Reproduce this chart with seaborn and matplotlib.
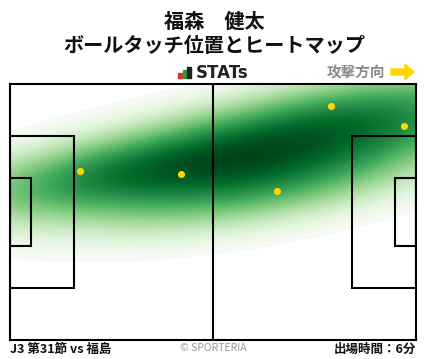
import matplotlib
matplotlib.use("Agg")
import matplotlib.pyplot as plt
import seaborn as sns
import numpy as np
import pandas as pd
from matplotlib.patches import Rectangle, FancyArrow

sns.set_style("white")
plt.rcParams['font.family'] = ['Noto Sans CJK JP', 'DejaVu Sans']

# Data (pitch coords: x 0-105 toward attack, y 0-68 from top)
touch_x = [18.2, 44.3, 83.1, 102.0, 69.1]
touch_y = [23.2, 24.0, 5.9, 11.2, 28.5]

title_line1 = "福森　健太"
title_line2 = "ボールタッチ位置とヒートマップ"
match_label = "J3 第31節 vs 福島"
minutes_label = "出場時間：6分"

df = pd.DataFrame({"x": touch_x, "y": touch_y})

fig = plt.figure(figsize=(4.28, 3.59), dpi=100)
W, H = 428, 359
ax = fig.add_axes([10 / W, (H - 340) / H, 406 / W, 256 / H])

sns.kdeplot(data=df, x="x", y="y", fill=True, cmap="Greens", levels=100,
            thresh=0.015, bw_adjust=1.3, clip=((0, 105), (0, 68)), gridsize=200,
            ax=ax, zorder=1)

lw = 1.5
# half line
ax.plot([52.5, 52.5], [0, 68], color="black", lw=lw, zorder=3)
# penalty boxes
for x0, w in [(0, 16.5), (105 - 16.5, 16.5)]:
    ax.add_patch(Rectangle((x0, 34 - 20.16), w, 40.32, fill=False, ec="black", lw=lw, zorder=3))
for x0, w in [(0, 5.5), (105 - 5.5, 5.5)]:
    ax.add_patch(Rectangle((x0, 34 - 9.16), w, 18.32, fill=False, ec="black", lw=lw, zorder=3))

ax.scatter(touch_x, touch_y, s=26, color="#FFD700", zorder=4, linewidths=0)

ax.set_xlim(0, 105)
ax.set_ylim(68, 0)
ax.set_xticks([])
ax.set_yticks([])
ax.set_xlabel("")
ax.set_ylabel("")
for s in ax.spines.values():
    s.set_visible(True)
    s.set_color("black")
    s.set_linewidth(lw)

# Titles
fig.text(0.5, 1 - 21 / H, title_line1, ha="center", va="center", fontsize=14.5, fontweight="bold", color="#111111")
fig.text(0.5, 1 - 46 / H, title_line2, ha="center", va="center", fontsize=14.5, fontweight="bold", color="#111111")

# STATs logo
for i, (c, h) in enumerate([("#e03030", 5), ("#22a040", 8), ("#222222", 11)]):
    fig.patches.append(Rectangle(((178 + i * 4.5) / W, (H - 78) / H), 3.5 / W, h / H,
                                 transform=fig.transFigure, color=c, figure=fig))
fig.text(196 / W, 1 - 73 / H, "STATs", ha="left", va="center", fontsize=12, fontweight="bold",
         color="#222222", family=["DejaVu Sans"])

# attack direction
fig.text(385 / W, 1 - 72 / H, "攻撃方向", ha="right", va="center", fontsize=10.5, fontweight="bold", color="#8a8a8a")
fig.patches.append(FancyArrow(391 / W, 1 - 72 / H, 14 / W, 0, width=6 / H, head_width=16 / H,
                              head_length=9 / W, length_includes_head=False,
                              transform=fig.transFigure, color="#FFD700", figure=fig))

# Footer
fig.text(10 / W, 1 - 349 / H, match_label, ha="left", va="center", fontsize=9, fontweight="bold", color="#111111")
fig.text(213 / W, 1 - 348 / H, "© SPORTERIA", ha="center", va="center", fontsize=7.5, color="#999999")
fig.text(416 / W, 1 - 349 / H, minutes_label, ha="right", va="center", fontsize=9, fontweight="bold", color="#111111")

fig.savefig("out.png", dpi=100)
